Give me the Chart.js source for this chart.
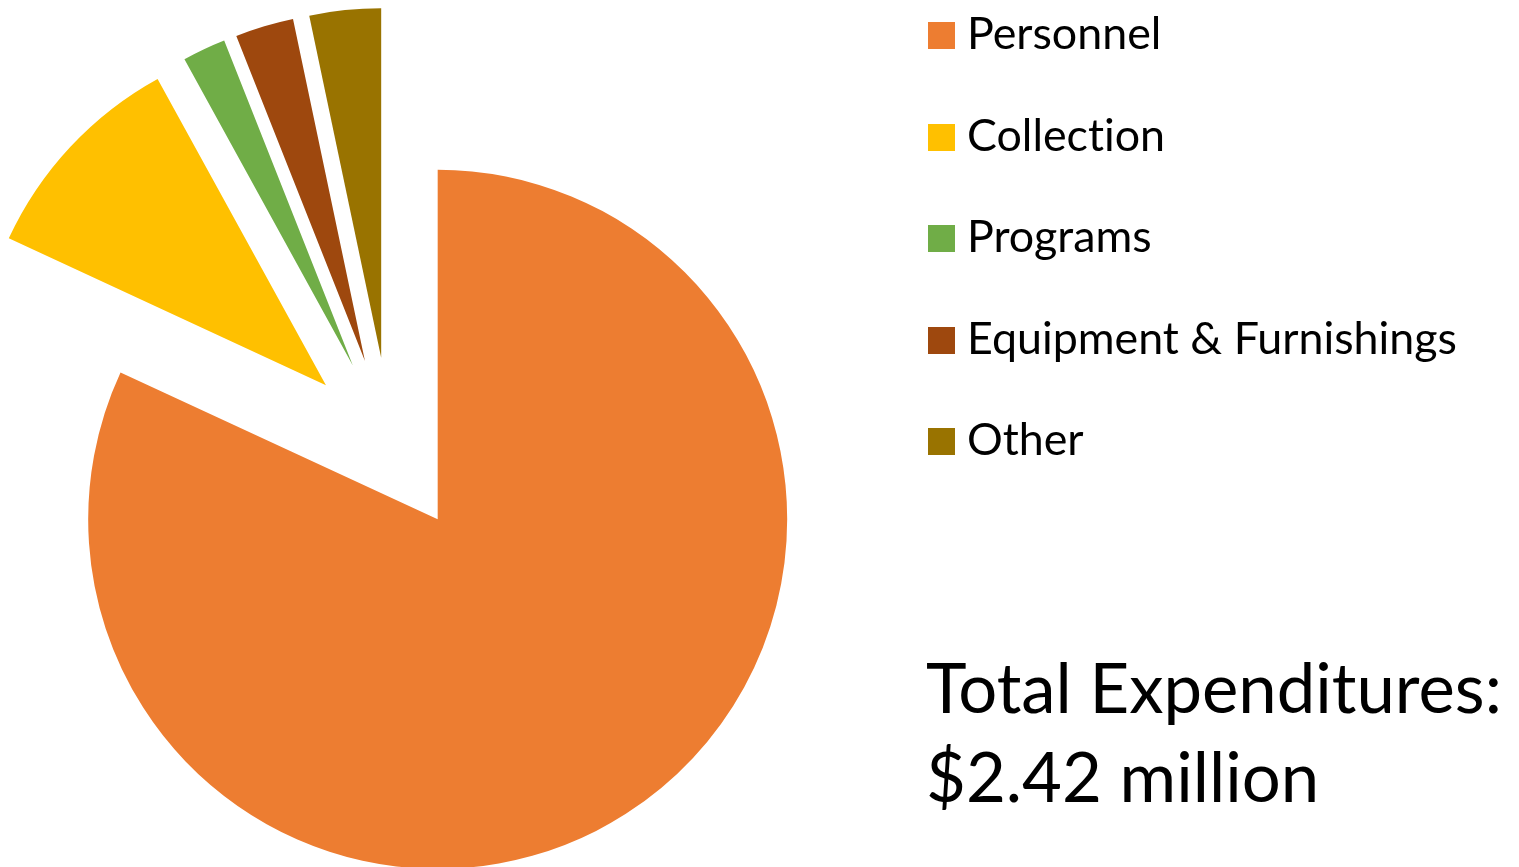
<!DOCTYPE html>
<html>
<head>
<meta charset="utf-8">
<title>Total Expenditures</title>
<script src="https://cdn.jsdelivr.net/npm/chart.js@4"></script>
<style>
  html, body { margin: 0; padding: 0; background: #fff; }
  #wrap { position: relative; width: 1519px; height: 867px; overflow: hidden; font-family: Lato, "Open Sans", sans-serif; color: #000; font-variant-ligatures: none; }
  #pie { position: absolute; left: 0; top: 0; }
  .txt { position: absolute; white-space: nowrap; line-height: 1; }
  .swatch { position: absolute; width: 27px; height: 27px; }
</style>
</head>
<body>
<div id="wrap">
  <canvas id="pie" width="1519" height="867"></canvas>
  <div id="legend"></div>
  <div id="total"></div>
</div>
<script>
// share of total expenditures, in percent
const categories = ['Personnel', 'Collection', 'Programs', 'Equipment & Furnishings', 'Other'];
const shares = [81.9, 10.1, 2.0, 2.7, 3.3];
const colors = ['#ED7D31', '#FFC000', '#70AD47', '#9E480E', '#997300'];
const totalLines = ['Total Expenditures:', '$2.42 million'];

const explodeOffset = 88;

// push every slice out along its middle angle, like an exploded Excel pie
const explode = {
  id: 'explode',
  afterDatasetUpdate(chart, args) {
    args.meta.data.forEach(function(arc) {
      const mid = (arc.startAngle + arc.endAngle) / 2;
      arc.x += Math.cos(mid) * explodeOffset;
      arc.y += Math.sin(mid) * explodeOffset;
    });
  }
};

new Chart(document.getElementById('pie'), {
  type: 'pie',
  data: {
    labels: categories,
    datasets: [{
      data: shares,
      backgroundColor: colors,
      borderWidth: 0,
      radius: 349.5,
      clip: false
    }]
  },
  options: {
    responsive: false,
    animation: false,
    events: [],
    layout: { padding: { left: 0, right: 738.4, top: 23.4, bottom: 0 } },
    plugins: {
      legend: { display: false },
      tooltip: { enabled: false }
    }
  },
  plugins: [explode]
});

function fitFont(el, targetWidth) {
  el.style.fontSize = '100px';
  const w = el.getBoundingClientRect().width;
  return 100 * targetWidth / w;
}

function placeAtBaseline(el, x, y) {
  el.style.left = x + 'px';
  el.style.top = '0px';
  const probe = document.createElement('span');
  probe.style.cssText = 'display:inline-block;width:0;height:0;';
  el.appendChild(probe);
  const off = probe.getBoundingClientRect().top - el.getBoundingClientRect().top;
  probe.remove();
  el.style.top = (y - off) + 'px';
}

// legend
const legend = document.getElementById('legend');
const legendTexts = categories.map(function(name, i) {
  const sw = document.createElement('div');
  sw.className = 'swatch';
  sw.style.background = colors[i];
  sw.style.left = '928px';
  sw.style.top = (49 + i * 101.6 - 27) + 'px';
  legend.appendChild(sw);
  const t = document.createElement('div');
  t.className = 'txt';
  t.textContent = name;
  legend.appendChild(t);
  return t;
});
const legendSize = fitFont(legendTexts[3], 490);
legendTexts.forEach(function(t, i) {
  t.style.fontSize = legendSize + 'px';
  placeAtBaseline(t, 967, 49 + i * 101.6);
});

// total
const total = document.getElementById('total');
const totalEls = totalLines.map(function(line) {
  const t = document.createElement('div');
  t.className = 'txt';
  t.textContent = line;
  total.appendChild(t);
  return t;
});
const totalSize = fitFont(totalEls[0], 576);
totalEls.forEach(function(t, i) {
  t.style.fontSize = totalSize + 'px';
  placeAtBaseline(t, 926, 712.7 + i * 89);
});
</script>
</body>
</html>
